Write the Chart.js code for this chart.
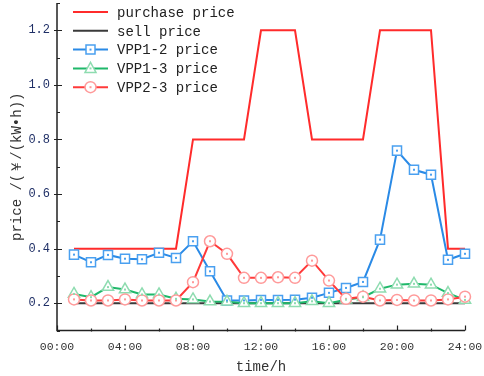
<!DOCTYPE html>
<html>
<head>
<meta charset="utf-8">
<script src="https://cdn.jsdelivr.net/npm/chart.js@4.4.1/dist/chart.umd.min.js"></script>
<style>
  html, body { margin: 0; padding: 0; background: #fff; }
  #wrap { width: 484px; height: 376px; position: relative; }
</style>
</head>
<body>
<div id="wrap"><canvas id="chart"></canvas></div>
<script>
// --- DATA ---
const hours = [1, 2, 3, 4, 5, 6, 7, 8, 9, 10, 11, 12, 13, 14, 15, 16, 17, 18, 19, 20, 21, 22, 23, 24];
const purchasePrice = [0.4, 0.4, 0.4, 0.4, 0.4, 0.4, 0.4, 0.8, 0.8, 0.8, 0.8, 1.2, 1.2, 1.2, 0.8, 0.8, 0.8, 0.8, 1.2, 1.2, 1.2, 1.2, 0.4, 0.4];
const sellPrice = [0.2, 0.2, 0.2, 0.2, 0.2, 0.2, 0.2, 0.2, 0.2, 0.2, 0.2, 0.2, 0.2, 0.2, 0.2, 0.2, 0.2, 0.2, 0.2, 0.2, 0.2, 0.2, 0.2, 0.2];
const vpp12Price = [0.378, 0.35, 0.377, 0.363, 0.361, 0.385, 0.366, 0.427, 0.317, 0.21, 0.21, 0.212, 0.212, 0.213, 0.22, 0.238, 0.256, 0.278, 0.433, 0.759, 0.689, 0.671, 0.359, 0.381];
const vpp13Price = [0.234, 0.222, 0.259, 0.25, 0.232, 0.232, 0.216, 0.214, 0.206, 0.205, 0.2, 0.2, 0.2, 0.2, 0.207, 0.2, 0.213, 0.222, 0.253, 0.268, 0.271, 0.268, 0.237, 0.212];
const vpp23Price = [0.214, 0.21, 0.21, 0.214, 0.21, 0.21, 0.21, 0.277, 0.427, 0.381, 0.293, 0.293, 0.295, 0.293, 0.356, 0.283, 0.216, 0.224, 0.21, 0.212, 0.21, 0.21, 0.214, 0.224];

const xMajorTicks = [0, 4, 8, 12, 16, 20, 24];
const xMinorTicks = [2, 6, 10, 14, 18, 22];
const yMajorTicks = [0.2, 0.4, 0.6, 0.8, 1.0, 1.2];
const yMinorTicks = [0.1, 0.3, 0.5, 0.7, 0.9, 1.1, 1.3];

const FONT = "'Liberation Mono', 'DejaVu Sans Mono', monospace";

const toXY = (vals) => vals.map((v, i) => ({ x: hours[i], y: v }));

// legend entries: label, line colour, marker
const legendItems = [
    { label: 'purchase price', color: '#ff2b2b', marker: null },
    { label: 'sell price', color: '#3a3a3a', marker: null },
    { label: 'VPP1-2 price', color: '#2a8ae6', marker: 'rect', mColor: '#4aa0f0' },
    { label: 'VPP1-3 price', color: '#1fb86a', marker: 'triangle', mColor: '#8edcb0' },
    { label: 'VPP2-3 price', color: '#ff3a3a', marker: 'circle', mColor: '#ff9a9a' }
];

function drawMarker(ctx, type, x, y, color) {
    ctx.save();
    ctx.fillStyle = '#fff';
    ctx.strokeStyle = color;
    ctx.lineWidth = 1.5;
    ctx.beginPath();
    if (type === 'rect') {
        ctx.rect(x - 4.5, y - 4.5, 9, 9);
    } else if (type === 'triangle') {
        ctx.moveTo(x, y - 6);
        ctx.lineTo(x + 5.5, y + 4);
        ctx.lineTo(x - 5.5, y + 4);
        ctx.closePath();
    } else {
        ctx.arc(x, y, 5.5, 0, Math.PI * 2);
    }
    ctx.fill();
    ctx.stroke();
    ctx.fillStyle = color;
    ctx.fillRect(x - 1, y - 1, 2, 2);
    ctx.restore();
}

// axes lines, inward ticks, legend and centre dots
const decorPlugin = {
    id: 'decor',
    afterDatasetsDraw(chart) {
        const ctx = chart.ctx;
        const xs = chart.scales.x, ys = chart.scales.y;
        const ca = chart.chartArea;

        // small centre dots on markers
        chart.data.datasets.forEach((ds, di) => {
            if (!ds.dotColor) return;
            const meta = chart.getDatasetMeta(di);
            ctx.fillStyle = ds.dotColor;
            meta.data.forEach(pt => ctx.fillRect(pt.x - 1, pt.y - 1, 2, 2));
        });

        ctx.save();
        ctx.strokeStyle = '#222';
        ctx.lineWidth = 1.5;
        ctx.beginPath();
        ctx.moveTo(ca.left, ca.top);
        ctx.lineTo(ca.left, ca.bottom);
        ctx.lineTo(ca.right, ca.bottom);
        ctx.stroke();

        ctx.lineWidth = 1.2;
        ctx.beginPath();
        yMajorTicks.forEach(v => {
            const y = Math.round(ys.getPixelForValue(v)) + 0.5;
            ctx.moveTo(ca.left - 3, y);
            ctx.lineTo(ca.left + 5, y);
        });
        yMinorTicks.forEach(v => {
            const y = Math.round(ys.getPixelForValue(v)) + 0.5;
            ctx.moveTo(ca.left, y);
            ctx.lineTo(ca.left + 3, y);
        });
        xMajorTicks.forEach(v => {
            const x = Math.round(xs.getPixelForValue(v)) + 0.5;
            ctx.moveTo(x, ca.bottom);
            ctx.lineTo(x, ca.bottom - 5);
        });
        xMinorTicks.forEach(v => {
            const x = Math.round(xs.getPixelForValue(v)) + 0.5;
            ctx.moveTo(x, ca.bottom + 1);
            ctx.lineTo(x, ca.bottom - 2);
        });
        ctx.stroke();

        // legend in upper left
        ctx.font = '14px ' + FONT;
        ctx.textBaseline = 'middle';
        legendItems.forEach((it, i) => {
            const y = ca.top + 9 + i * 18.8;
            const x0 = ca.left + 16, x1 = ca.left + 51;
            ctx.strokeStyle = it.color;
            ctx.lineWidth = 2;
            ctx.beginPath();
            ctx.moveTo(x0, y);
            ctx.lineTo(x1, y);
            ctx.stroke();
            if (it.marker) drawMarker(ctx, it.marker, (x0 + x1) / 2, y, it.mColor);
            ctx.fillStyle = '#222';
            ctx.fillText(it.label, ca.left + 60, y + 1);
        });
        ctx.restore();
    }
};

const ctx = document.getElementById('chart').getContext('2d');
new Chart(ctx, {
    type: 'line',
    data: {
        datasets: [
            {
                label: 'VPP2-3 price', data: toXY(vpp23Price), order: 1,
                borderColor: '#ff3a3a', borderWidth: 2,
                pointStyle: 'circle', pointRadius: 5.5, pointBorderWidth: 1.5,
                pointBorderColor: '#ff9a9a', pointBackgroundColor: '#fff', dotColor: '#ff9a9a'
            },
            {
                label: 'VPP1-3 price', data: toXY(vpp13Price), order: 2,
                borderColor: '#1fb86a', borderWidth: 2,
                pointStyle: 'triangle', pointRadius: 6.5, pointBorderWidth: 1.5,
                pointBorderColor: '#8edcb0', pointBackgroundColor: '#fff', dotColor: '#8edcb0'
            },
            {
                label: 'VPP1-2 price', data: toXY(vpp12Price), order: 3,
                borderColor: '#2a8ae6', borderWidth: 2,
                pointStyle: 'rect', pointRadius: 6.4, pointBorderWidth: 1.5,
                pointBorderColor: '#4aa0f0', pointBackgroundColor: '#fff', dotColor: '#4aa0f0'
            },
            {
                label: 'sell price', data: toXY(sellPrice), order: 4,
                borderColor: '#3a3a3a', borderWidth: 2, pointRadius: 0
            },
            {
                label: 'purchase price', data: toXY(purchasePrice), order: 5,
                borderColor: '#ff2b2b', borderWidth: 2, pointRadius: 0
            }
        ]
    },
    options: {
        responsive: true,
        maintainAspectRatio: false,
        animation: false,
        layout: { autoPadding: false, padding: { top: 3, right: 19, bottom: 0, left: 0 } },
        datasets: { line: { clip: false } },
        plugins: { legend: { display: false }, tooltip: { enabled: false } },
        elements: { line: { tension: 0 } },
        scales: {
            x: {
                type: 'linear', min: 0, max: 24,
                afterBuildTicks: (s) => { s.ticks = xMajorTicks.map(v => ({ value: v })); },
                afterFit: (s) => { s.height = 45.5; s.paddingLeft = 0; s.paddingRight = 0; },
                grid: { display: false, drawTicks: false },
                border: { display: false },
                ticks: {
                    padding: 10, color: '#333', maxRotation: 0,
                    font: { family: FONT, size: 11.5 },
                    callback: (v) => String(v).padStart(2, '0') + ':00'
                },
                title: {
                    display: true, text: 'time/h', color: '#333',
                    font: { family: FONT, size: 14 }, padding: { top: 2, bottom: 0 }
                }
            },
            y: {
                type: 'linear', min: 0.1, max: 1.3,
                afterBuildTicks: (s) => { s.ticks = yMajorTicks.map(v => ({ value: v })); },
                afterFit: (s) => { s.width = 57; s.paddingTop = 0; s.paddingBottom = 0; },
                grid: { display: false, drawTicks: false },
                border: { display: false },
                ticks: {
                    padding: 7, color: '#1f2f66',
                    font: { family: FONT, size: 12 },
                    callback: (v) => Number(v).toFixed(1)
                },
                title: {
                    display: true, text: 'price /(￥/(kW•h))', color: '#333',
                    font: { family: FONT, size: 14 }, padding: { top: 9, bottom: 0 }
                }
            }
        }
    },
    plugins: [decorPlugin]
});
</script>
</body>
</html>
